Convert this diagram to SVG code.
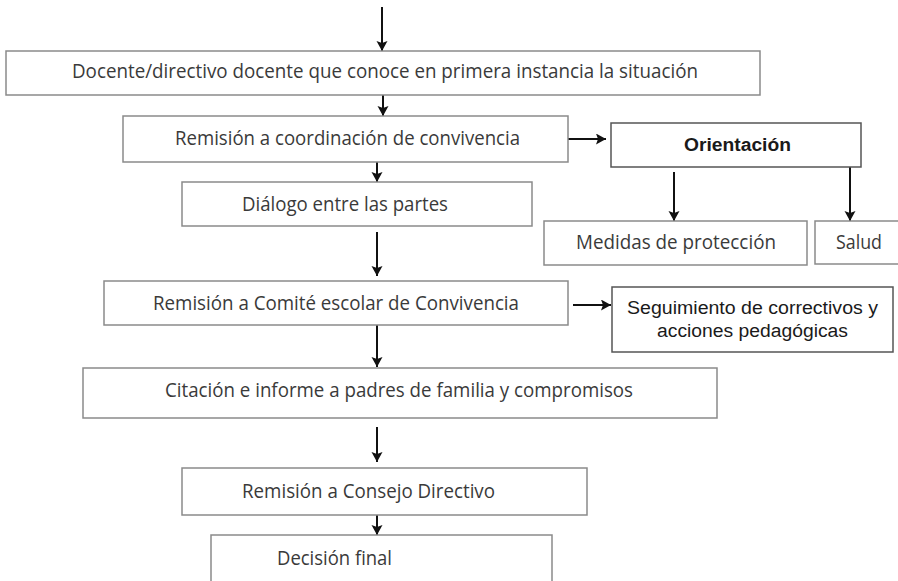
<svg xmlns="http://www.w3.org/2000/svg" width="898" height="581" viewBox="0 0 898 581">
<style>
.box{fill:#fff;stroke:#8a8a8a;stroke-width:1.5}
.boxd{fill:#fff;stroke:#555;stroke-width:1.5}
.t{font-family:"Open Sans",Lato,"Liberation Sans",sans-serif;font-size:20px;fill:#3a3a3a}
.a{font-family:"Liberation Sans",Arial,sans-serif;font-size:18px;fill:#1a1a1a}
.ab{font-family:"Liberation Sans",Arial,sans-serif;font-size:18px;font-weight:bold;fill:#1a1a1a}
.c{stroke:#111;stroke-width:2;fill:none;marker-end:url(#ah)}
</style>
<defs>
<marker id="ah" markerUnits="userSpaceOnUse" markerWidth="12" markerHeight="12" refX="10" refY="5.5" orient="auto">
<path d="M0,0 L10,5.5 L0,11 L2,5.5 Z" fill="#111"/>
</marker>
</defs>
<rect width="898" height="581" fill="#fff"/>
<g id="connectors">
<line class="c" x1="382" y1="7" x2="382" y2="51"/>
<line class="c" x1="383" y1="95" x2="383" y2="116"/>
<line class="c" x1="377" y1="162" x2="377" y2="182"/>
<line class="c" x1="377" y1="232" x2="377" y2="276"/>
<line class="c" x1="377" y1="325" x2="377" y2="367"/>
<line class="c" x1="377" y1="427" x2="377" y2="462"/>
<line class="c" x1="377" y1="515" x2="377" y2="535"/>
<line class="c" x1="568" y1="139" x2="606" y2="139"/>
<line class="c" x1="674" y1="172" x2="674" y2="221"/>
<line class="c" x1="850" y1="167" x2="850" y2="221"/>
<line class="c" x1="573" y1="305" x2="611" y2="305"/>
</g>
<g id="n1"><rect class="box" x="6" y="51" width="754" height="44"/>
<text class="t" x="72" y="78" textLength="626" lengthAdjust="spacingAndGlyphs">Docente/directivo docente que conoce en primera instancia la situación</text></g>
<g id="n2"><rect class="box" x="123" y="116" width="445" height="46"/>
<text class="t" x="175" y="145" textLength="345" lengthAdjust="spacingAndGlyphs">Remisión a coordinación de convivencia</text></g>
<g id="n3"><rect class="boxd" x="611" y="123" width="250" height="44"/>
<text class="ab" x="684" y="151" textLength="107" lengthAdjust="spacingAndGlyphs">Orientación</text></g>
<g id="n4"><rect class="box" x="182" y="182" width="350" height="44"/>
<text class="t" x="242" y="211" textLength="206" lengthAdjust="spacingAndGlyphs">Diálogo entre las partes</text></g>
<g id="n5"><rect class="box" x="544" y="221" width="263" height="44"/>
<text class="t" x="576" y="249" textLength="200" lengthAdjust="spacingAndGlyphs">Medidas de protección</text></g>
<g id="n6"><rect class="box" x="815" y="221" width="90" height="43"/>
<text class="t" x="836" y="249" textLength="46" lengthAdjust="spacingAndGlyphs">Salud</text></g>
<g id="n7"><rect class="box" x="104" y="281" width="464" height="44"/>
<text class="t" x="153" y="310" textLength="366" lengthAdjust="spacingAndGlyphs">Remisión a Comité escolar de Convivencia</text></g>
<g id="n8"><rect class="boxd" x="612" y="287" width="281" height="65"/>
<text class="a" x="627" y="314" textLength="251" lengthAdjust="spacingAndGlyphs">Seguimiento de correctivos y</text>
<text class="a" x="657" y="337" textLength="191" lengthAdjust="spacingAndGlyphs">acciones pedagógicas</text></g>
<g id="n9"><rect class="box" x="83" y="368" width="634" height="50"/>
<text class="t" x="165" y="397" textLength="468" lengthAdjust="spacingAndGlyphs">Citación e informe a padres de familia y compromisos</text></g>
<g id="n10"><rect class="box" x="182" y="468" width="405" height="47"/>
<text class="t" x="242" y="498" textLength="253" lengthAdjust="spacingAndGlyphs">Remisión a Consejo Directivo</text></g>
<g id="n11"><rect class="box" x="211" y="535" width="341" height="60"/>
<text class="t" x="277" y="565" textLength="115" lengthAdjust="spacingAndGlyphs">Decisión final</text></g>
</svg>
